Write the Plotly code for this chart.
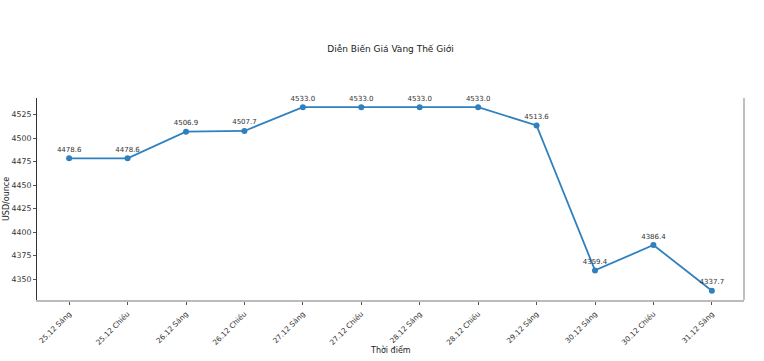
import plotly.graph_objects as go

categories = ["25.12 Sáng", "25.12 Chiều", "26.12 Sáng", "26.12 Chiều", "27.12 Sáng",
              "27.12 Chiều", "28.12 Sáng", "28.12 Chiều", "29.12 Sáng", "30.12 Sáng",
              "30.12 Chiều", "31.12 Sáng"]
prices = [4478.6, 4478.6, 4506.9, 4507.7, 4533.0, 4533.0, 4533.0, 4533.0, 4513.6,
          4359.4, 4386.4, 4337.7]
y_ticks = [4350, 4375, 4400, 4425, 4450, 4475, 4500, 4525]

title = "Diễn Biến Giá Vàng Thế Giới"
x_title = "Thời điểm"
y_title = "USD/ounce"

xs = list(range(len(categories)))
labels = [f"{v:.1f}" for v in prices]

span = max(prices) - min(prices)
y_range = [min(prices) - 0.05 * span, max(prices) + 0.05 * span]
x_range = [-0.05 * (len(xs) - 1), (len(xs) - 1) * 1.05]

FONT = "DejaVu Sans, Liberation Sans, sans-serif"
color = "#2f80bf"

W, H = 764, 361

fig = go.Figure()
fig.add_trace(go.Scatter(
    x=xs, y=prices, mode="lines+markers+text",
    line=dict(color=color, width=1.8),
    marker=dict(color=color, size=6),
    text=labels, textposition="top center",
    textfont=dict(size=7, color="#333333", family=FONT),
    cliponaxis=False, hoverinfo="skip",
))

fig.update_layout(
    width=W, height=H,
    margin=dict(l=37, r=20, t=98, b=61, autoexpand=False),
    paper_bgcolor="white", plot_bgcolor="white",
    showlegend=False,
    font=dict(family=FONT, size=8, color="#333333"),
    title=dict(text=title, x=0.5, xanchor="center", xref="paper",
               y=1 - 49 / H, yanchor="middle", yref="container", automargin=False,
               font=dict(size=9, color="#222222", family=FONT)),
    xaxis=dict(
        range=x_range, tickmode="array", tickvals=xs, ticktext=categories,
        tickangle=-45, ticks="outside", ticklen=3, tickcolor="#555555",
        ticklabelstandoff=2,
        showgrid=False, zeroline=False, showline=True, linecolor="#bbbbbb", linewidth=1.5,
        tickfont=dict(size=7.3, color="#333333"), automargin=False,
    ),
    yaxis=dict(
        range=y_range, tickmode="array", tickvals=y_ticks,
        ticks="outside", ticklen=3, tickcolor="#555555",
        showgrid=False, zeroline=False, showline=True, linecolor="#333333", linewidth=1,
        tickfont=dict(size=7.8, color="#333333"), automargin=False,
    ),
    shapes=[dict(type="line", xref="paper", yref="paper", x0=1, x1=1, y0=0, y1=1,
                 line=dict(color="#aaaaaa", width=1.5))],
    annotations=[
        dict(text=y_title, xref="paper", yref="paper", x=0, y=0.5, xshift=-31,
             xanchor="center", yanchor="middle", textangle=-90, showarrow=False,
             font=dict(size=8, color="#222222")),
        dict(text=x_title, xref="paper", yref="paper", x=0.5, y=0, yshift=-50,
             xanchor="center", yanchor="middle", showarrow=False,
             font=dict(size=8, color="#222222")),
    ],
)

fig.write_html("out.html", config={"displayModeBar": False},
               post_script="document.body.style.margin='0';")
